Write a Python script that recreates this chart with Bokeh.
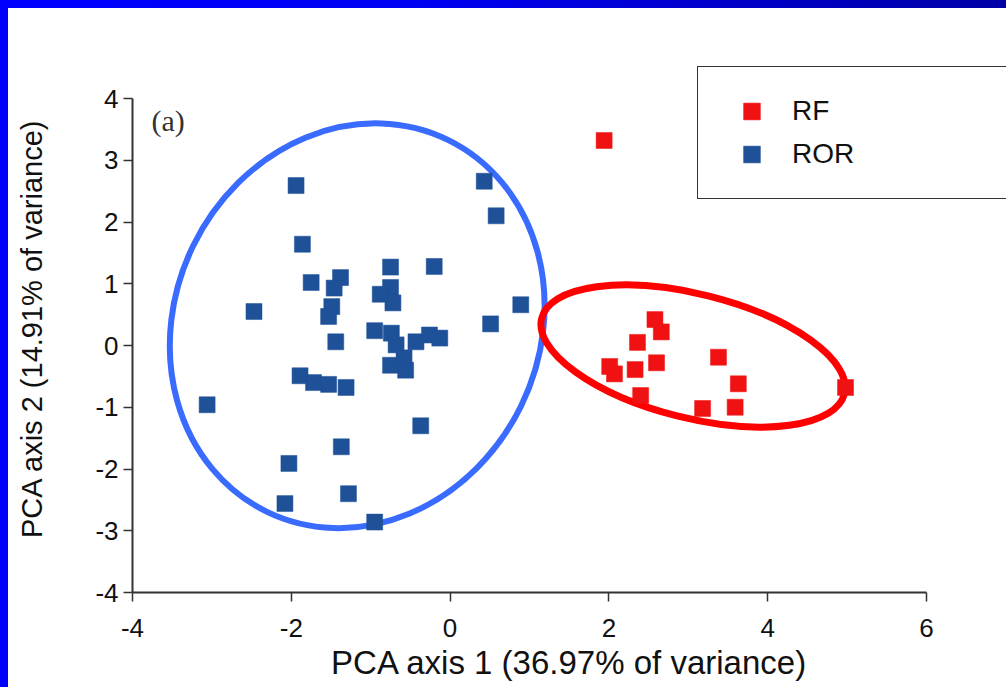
from bokeh.plotting import figure
from bokeh.models import (Legend, LegendItem, Label, Range1d, FixedTicker,
                          PrintfTickFormatter, GlobalInlineStyleSheet)
from bokeh.embed import file_html
from bokeh.resources import INLINE
import math

# ---- data ----
ror_x = [-1.94, 0.43, 0.58, -1.86, -0.75, -0.20, -1.75, -1.38, -1.46, -0.75,
         -0.88, -0.72, -2.47, -1.49, -1.53, 0.89, 0.51, -1.44, -0.95, -0.74,
         -0.68, -0.43, -0.26, -0.13, -0.58, -0.75, -0.56, -1.89, -1.72, -1.53,
         -1.31, -3.06, -0.37, -1.37, -2.03, -1.28, -2.08, -0.95]
ror_y = [2.59, 2.66, 2.10, 1.64, 1.27, 1.28, 1.02, 1.10, 0.93, 0.94,
         0.83, 0.69, 0.55, 0.63, 0.47, 0.66, 0.35, 0.06, 0.24, 0.20,
         0.01, 0.06, 0.17, 0.12, -0.20, -0.32, -0.40, -0.49, -0.60, -0.63,
         -0.68, -0.96, -1.30, -1.64, -1.91, -2.40, -2.56, -2.86]

rf_x = [1.94, 2.58, 2.66, 2.36, 2.01, 2.07, 2.33, 2.60, 3.38, 3.63, 2.40, 3.18, 3.59, 4.98]
rf_y = [3.32, 0.42, 0.22, 0.05, -0.34, -0.46, -0.39, -0.28, -0.19, -0.62, -0.81, -1.02, -1.00, -0.68]

# group ellipses: centre x, centre y, width, height (data units), angle (deg)
ell_x = [-1.17, 3.06]
ell_y = [0.32, -0.17]
ell_w = [5.21, 3.93]
ell_h = [5.91, 2.01]
ell_angle = [64.0, -14.0]
ell_color = ["#3a6bff", "#ff0000"]
ell_lw = [6, 7]

x_ticks = [-4, -2, 0, 2, 4, 6]
y_ticks = [-4, -3, -2, -1, 0, 1, 2, 3, 4]
x_bounds = (-4, 6)
y_bounds = (-4, 4)

series_labels = ["RF", "ROR"]

css = GlobalInlineStyleSheet(css="""
html { background: linear-gradient(90deg, #0000ff 0%, #0000f4 40%, #0000a6 100%) !important; }
body { margin: 8px 0 0 8px !important; padding: 0 !important; background: transparent !important; overflow: hidden !important; }
""")

# frame: axes span 794 x 494 px for the bounds; frame extended up/right for the legend
PX_X = 794 / (x_bounds[1] - x_bounds[0])
PX_Y = 494 / (y_bounds[1] - y_bounds[0])
LEFT, TOP, BOTTOM = 124, 56, 95
W, H = 998, 679
x_end = x_bounds[0] + (W - LEFT) / PX_X
y_end = y_bounds[0] + (H - BOTTOM - TOP) / PX_Y

p = figure(width=W, height=H, output_backend="svg", toolbar_location=None,
           x_range=Range1d(x_bounds[0], x_end), y_range=Range1d(y_bounds[0], y_end),
           min_border_left=LEFT, min_border_right=0,
           min_border_top=TOP, min_border_bottom=BOTTOM,
           background_fill_color="white", border_fill_color="white")
p.stylesheets = [css]
p.styles = {"background-color": "white"}
p.outline_line_color = None
p.grid.visible = False

for i in range(len(ell_x)):
    p.ellipse(x=[ell_x[i]], y=[ell_y[i]], width=[ell_w[i]], height=[ell_h[i]],
              angle=[math.radians(ell_angle[i])], fill_color=None,
              line_color=ell_color[i], line_width=ell_lw[i])

r_ror = p.scatter(ror_x, ror_y, marker="square", size=16,
                  fill_color="#1f5199", line_color="#1f5199", line_width=0.5)
r_rf = p.scatter(rf_x, rf_y, marker="square", size=16,
                 fill_color="#f01212", line_color="#f01212", line_width=0.5)

FONT = "Liberation Sans"
for ax in (p.xaxis[0], p.yaxis[0]):
    ax.axis_line_color = "#333333"
    ax.axis_line_width = 2
    ax.major_tick_line_color = "#333333"
    ax.major_tick_line_width = 1.5
    ax.major_tick_out = 9
    ax.major_tick_in = 0
    ax.minor_tick_line_color = None
    ax.major_label_text_font = FONT
    ax.major_label_text_font_size = "26px"
    ax.major_label_text_color = "#111111"
    ax.axis_label_text_font = FONT
    ax.axis_label_text_font_style = "normal"
    ax.axis_label_text_color = "#111111"
    ax.formatter = PrintfTickFormatter(format="%d")

p.xaxis[0].bounds = x_bounds
p.yaxis[0].bounds = y_bounds
p.xaxis[0].ticker = FixedTicker(ticks=x_ticks)
p.yaxis[0].ticker = FixedTicker(ticks=y_ticks)
p.xaxis[0].axis_label = "PCA axis 1 (36.97% of variance)"
p.yaxis[0].axis_label = "PCA axis 2 (14.91% of variance)"
p.xaxis[0].axis_label_text_font_size = "33px"
p.yaxis[0].axis_label_text_font_size = "29px"
p.xaxis[0].major_label_standoff = 17
p.yaxis[0].major_label_standoff = 5
p.xaxis[0].axis_label_standoff = 4
p.yaxis[0].axis_label_standoff = 44

p.add_layout(Label(x=-3.76, y=3.64, text="(a)", text_font="Liberation Serif",
                   text_font_size="30px", text_color="#333333",
                   text_baseline="alphabetic"))

legend = Legend(items=[LegendItem(label=series_labels[0], renderers=[r_rf]),
                       LegendItem(label=series_labels[1], renderers=[r_ror])],
                location=(565, 393), orientation="vertical",
                border_line_color="#333333", border_line_width=1.5,
                border_line_alpha=1.0,
                background_fill_color="white", background_fill_alpha=1,
                padding=23, spacing=1, margin=0,
                glyph_width=61, glyph_height=42, label_standoff=10,
                label_width=213, label_text_font=FONT,
                label_text_font_size="28px", label_text_color="#111111")
p.add_layout(legend)

open("out.html", "w").write(file_html(p, INLINE))
